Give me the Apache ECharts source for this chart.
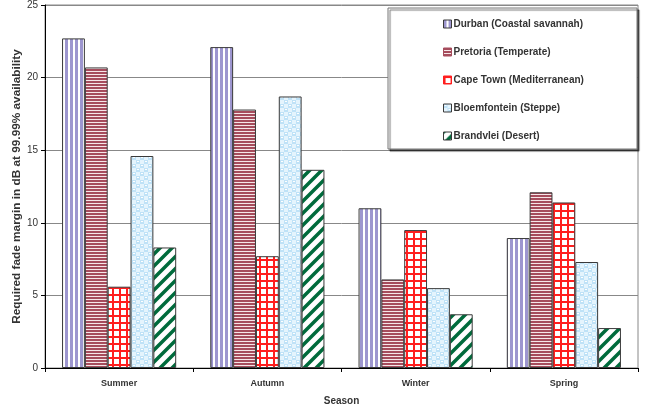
<!DOCTYPE html>
<html><head><meta charset="utf-8">
<script src="https://cdn.jsdelivr.net/npm/echarts@6/dist/echarts.min.js"></script>
<style>html,body{margin:0;padding:0;background:#fff}#c{width:654px;height:410px}</style>
</head><body><div id="c"></div>
<script>
const seasons = ['Summer','Autumn','Winter','Spring'];
const seriesNames = ['Durban (Coastal savannah)','Pretoria (Temperate)','Cape Town (Mediterranean)','Bloemfontein (Steppe)','Brandvlei (Desert)'];
const durban = [22.7, 22.1, 11.0, 8.95];
const pretoria = [20.7, 17.8, 6.1, 12.1];
const capeTown = [5.6, 7.7, 9.5, 11.4];
const bloemfontein = [14.6, 18.7, 5.5, 7.3];
const brandvlei = [8.3, 13.65, 3.7, 2.75];
const yTicks = [0,5,10,15,20,25];
const values = [durban, pretoria, capeTown, bloemfontein, brandvlei];

function pat(w,h,draw){const c=document.createElement('canvas');c.width=w;c.height=h;const g=c.getContext('2d');draw(g,w,h);return {image:c,repeat:'repeat'};}
const patterns = [
  pat(5,5,(g)=>{g.fillStyle='#fff';g.fillRect(0,0,5,5);g.fillStyle='#9d96cf';g.fillRect(0,0,3,5);}),
  pat(4,3,(g)=>{g.fillStyle='#f6e6e8';g.fillRect(0,0,4,3);g.fillStyle='#a64c5c';g.fillRect(0,0,4,2);}),
  pat(7,7,(g)=>{g.fillStyle='#fff';g.fillRect(0,0,7,7);g.fillStyle='#ff1e1e';g.fillRect(0,0,7,2);g.fillRect(0,0,2,7);}),
  pat(8,8,(g)=>{g.fillStyle='#e4f4fd';g.fillRect(0,0,8,8);g.fillStyle='#bfe2f7';g.fillRect(0,0,4,4);g.fillRect(4,4,4,4);g.fillStyle='#ffffff';g.fillRect(1,1,2,1);g.fillRect(5,5,2,1);}),
  pat(12,12,(g)=>{g.fillStyle='#fff';g.fillRect(0,0,12,12);g.strokeStyle='#006b3c';g.lineWidth=3.5;g.beginPath();g.moveTo(-2,14);g.lineTo(14,-2);g.moveTo(-8,8);g.lineTo(8,-8);g.moveTo(4,20);g.lineTo(20,4);g.stroke();})
];
const legendIconBorders = ['#3a3a3a','#a64c5c','#ff1e1e','#3a3a3a','#3a3a3a'];

const chart = echarts.init(document.getElementById('c'));
const font = 'Liberation Sans, Arial, sans-serif';
chart.setOption({
  animation:false,
  backgroundColor:'#fff',
  grid:{left:45,right:16,top:5,bottom:42,show:true,borderColor:'#888',borderWidth:1,containLabel:false,outerBoundsMode:'none'},
  graphic:[
    {type:'rect',shape:{x:388,y:8,width:249,height:141},style:{fill:'#fff',stroke:'#777',lineWidth:1,shadowColor:'rgba(0,0,0,0.55)',shadowOffsetX:2,shadowOffsetY:2,shadowBlur:1},z:50}
  ],
  legend:{
    orient:'vertical',left:438,top:14,itemWidth:8,itemHeight:8,itemGap:18,z:60,
    icon:'rect',
    textStyle:{fontFamily:font,fontSize:10,fontWeight:'bold',color:'#333',padding:[0,0,0,-3]},
    data:seriesNames.map((n,i)=>({name:n,itemStyle:{borderColor:legendIconBorders[i],borderWidth:1}}))
  },
  xAxis:{
    type:'category',data:seasons,
    axisLine:{lineStyle:{color:'#000',width:1}},
    axisTick:{show:true,interval:0,length:4,lineStyle:{color:'#000'}},
    axisLabel:{fontFamily:font,fontSize:9,fontWeight:'bold',color:'#333',margin:11},
    name:'Season',nameLocation:'middle',nameGap:28,nameMoveOverlap:false,
    nameTextStyle:{fontFamily:font,fontSize:10,fontWeight:'bold',color:'#333'}
  },
  yAxis:{
    type:'value',min:0,max:25,interval:5,
    axisLine:{show:true,lineStyle:{color:'#000',width:1}},
    axisTick:{show:true,length:4,lineStyle:{color:'#000'}},
    axisLabel:{fontFamily:font,fontSize:10,color:'#333',margin:7,
      formatter:(v)=>yTicks.includes(v)?String(v):''},
    splitLine:{lineStyle:{color:'#888',width:1}},
    name:'Required fade margin in dB at 99.99% availability',nameLocation:'middle',nameGap:22,nameMoveOverlap:false,
    nameTextStyle:{fontFamily:font,fontSize:11.8,fontWeight:'bold',color:'#333'}
  },
  series: seriesNames.map((n,i)=>({
    name:n,type:'bar',data:values[i],barGap:'0%',barCategoryGap:'23%',
    itemStyle:{color:patterns[i],borderColor:'#3a3a3a',borderWidth:1},
    emphasis:{disabled:true}
  }))
});
</script></body></html>
